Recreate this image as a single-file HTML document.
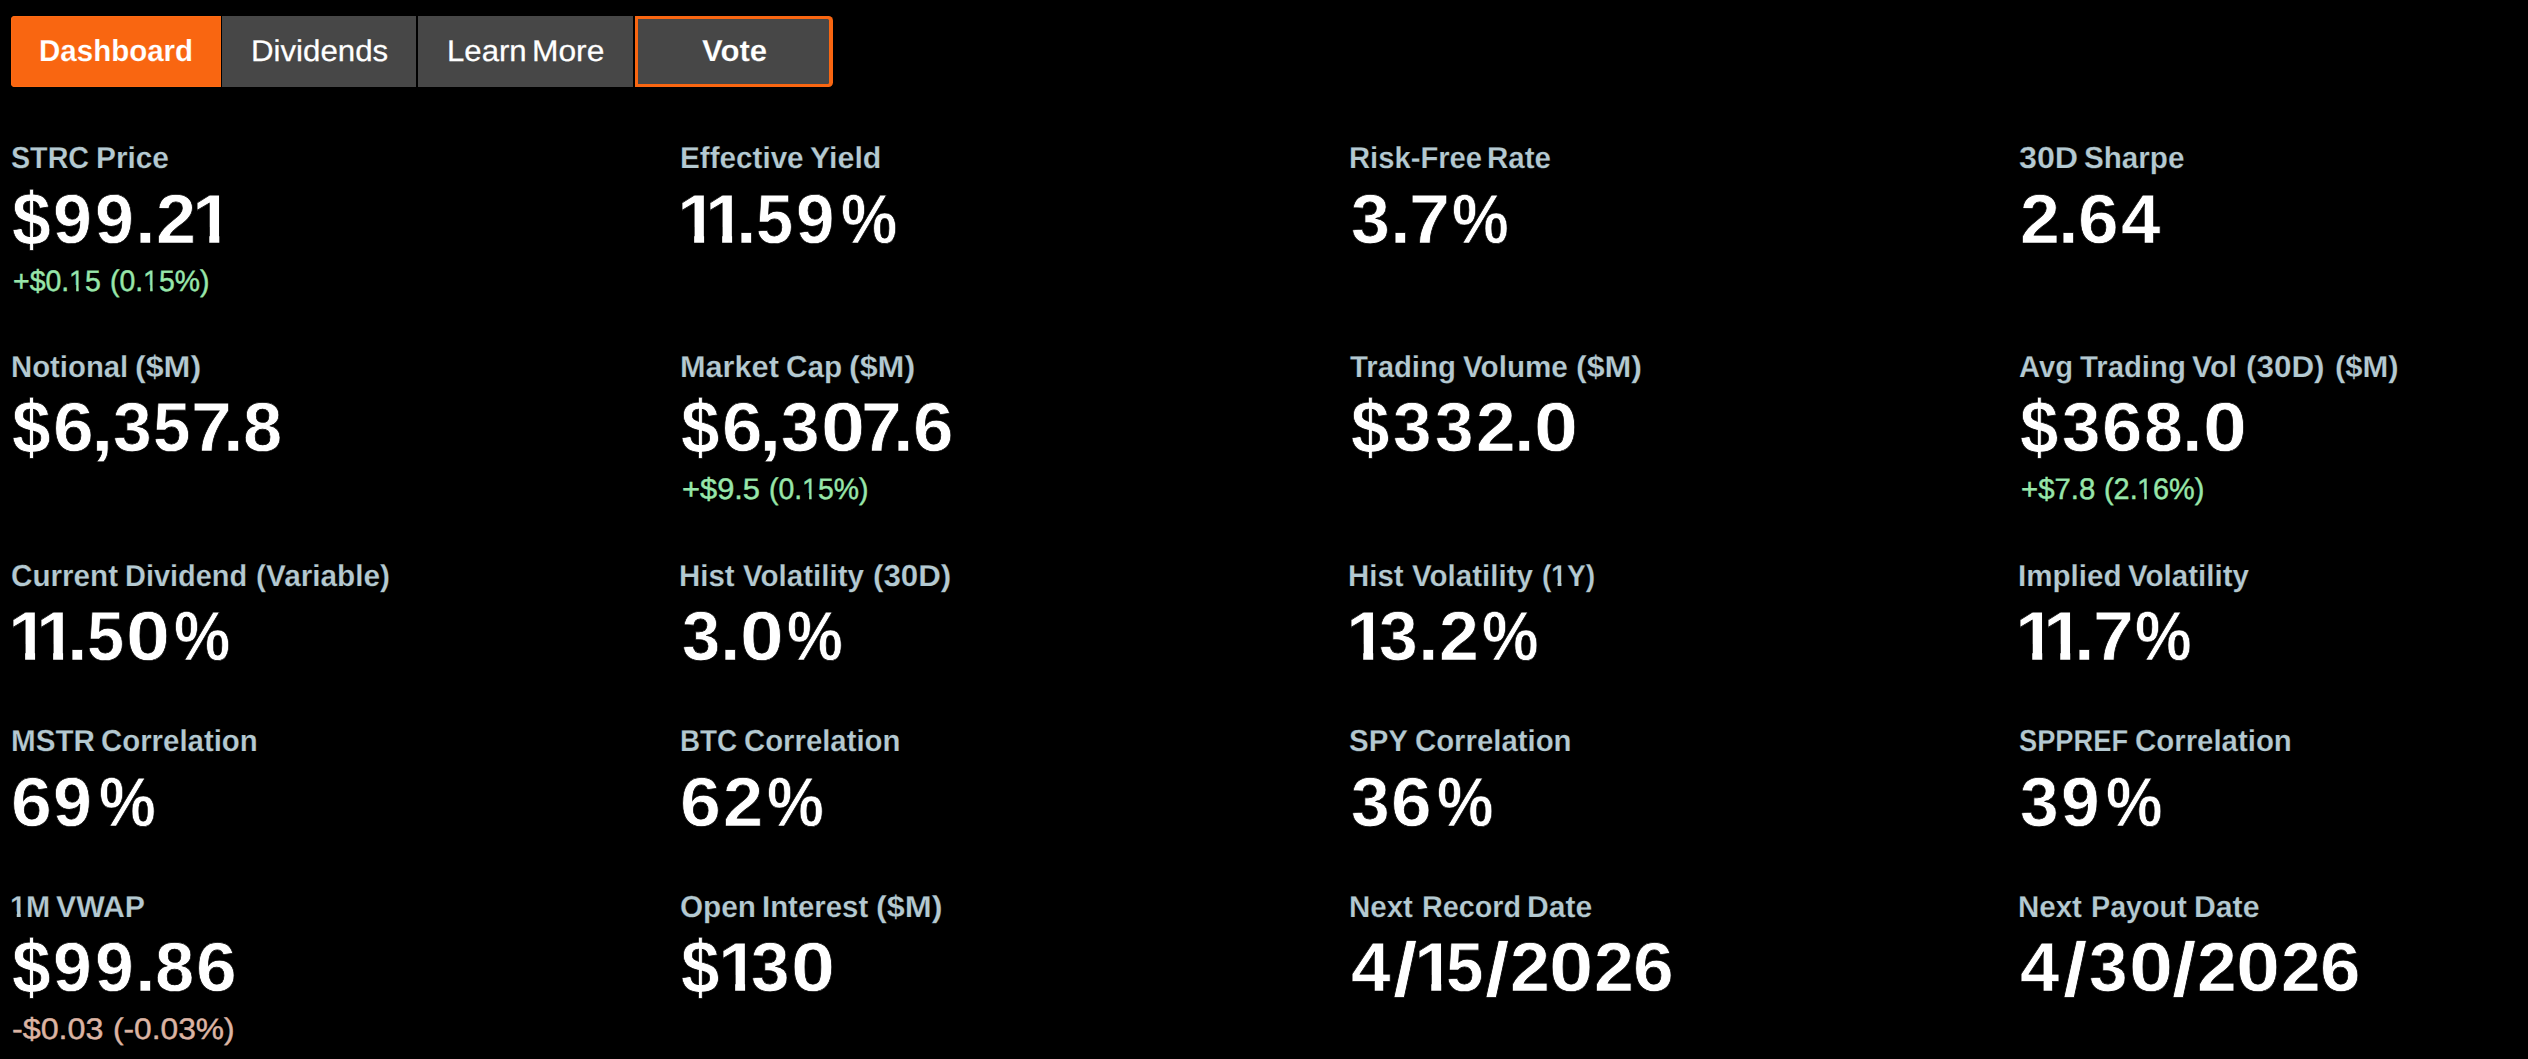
<!DOCTYPE html>
<html lang="en"><head><meta charset="utf-8"><title>STRC Dashboard</title>
<style>
html,body{margin:0;padding:0;background:#000;}
body{width:2528px;height:1059px;position:relative;overflow:hidden;font-family:"Liberation Sans",sans-serif;text-rendering:geometricPrecision;}
.r{position:absolute;left:0;width:2528px;line-height:1;white-space:nowrap;}
.r span{display:inline-block;white-space:nowrap;line-height:1;transform-origin:0 0;vertical-align:baseline;}
.one{clip-path:polygon(0 0,.3707em 0,.3707em 1.2em,.2333em 1.2em,.2333em .6em,0 .6em);}
.oner{clip-path:polygon(0 0,.3399em 0,.3399em 1.2em,.2514em 1.2em,.2514em .6em,0 .6em);}
.label{font-size:30.3px;font-weight:700;color:#b4c9d1;-webkit-text-stroke:0.2px #000;}
.value{font-size:69.7px;font-weight:700;color:#ffffff;-webkit-text-stroke:0.7px #000;}
.dpos{font-size:29.6px;font-weight:400;color:#98e6aa;-webkit-text-stroke:0.45px #98e6aa;}
.dneg{font-size:29.6px;font-weight:400;color:#dcb4a3;-webkit-text-stroke:0.45px #dcb4a3;}
.tabb{font-size:30.4px;font-weight:700;color:#ffffff;-webkit-text-stroke:0.15px #f96611;}
.tabv{font-size:30.4px;font-weight:700;color:#ffffff;-webkit-text-stroke:0.15px #474747;}
.tabr{font-size:29.9px;font-weight:400;color:#ffffff;-webkit-text-stroke:0.25px #ffffff;}

.tab{position:absolute;top:16px;height:71px;background:#474747;}
#t1{left:11px;width:210px;background:#f96611;border-radius:4px 0 0 4px;box-shadow:inset 0 0 0 1px #fd6b13;}
#t2{left:222px;width:194px;}
#t3{left:418px;width:215px;}
#t4{left:635px;width:197.7px;background:#f96611;border-radius:0 4.5px 4.5px 0;}
#t4 i{position:absolute;left:3.25px;top:3.25px;right:3.25px;bottom:3.25px;background:#474747;border-radius:0 1.5px 1.5px 0;display:block;}
</style></head>
<body>
<div class="tab" id="t1"></div><div class="tab" id="t2"></div><div class="tab" id="t3"></div><div class="tab" id="t4"><i></i></div>
<div class="r tabb" style="top:36.30px"><span style="margin-left:38.62px;transform:scaleX(0.9710)">Dashboard</span></div>
<div class="r tabr" style="top:37.30px"><span style="margin-left:251.23px;transform:scaleX(1.0451)">Dividends</span></div>
<div class="r tabr" style="top:37.30px"><span style="margin-left:446.89px;width:77.28px;transform:scaleX(1.0421)">Learn</span> <span style="transform:scaleX(1.0613)">More</span></div>
<div class="r tabv" style="top:36.30px"><span style="margin-left:702.31px;transform:scaleX(1.0247)">Vote</span></div>
<div class="r label" style="top:144.30px"><span style="margin-left:10.83px;width:76.27px;transform:scaleX(0.9464)">STRC</span> <span style="transform:scaleX(0.9840)">Price</span></div>
<div class="r value" style="top:185.30px"><span style="margin-left:12.05px;width:41.02px;transform-origin:0 34.72px;transform:scale(1.0015,1.08)">$</span><span style="width:42.37px;transform:scaleX(1.0035)">9</span><span style="width:39.51px;transform:scaleX(1.0035)">9</span><span style="width:21.16px;transform:scaleX(1.0713)">.</span><span style="width:36.32px;transform:scaleX(1.0336)">2</span><span class="one" style="transform:scaleX(1.0637)">1</span></div>
<div class="r dpos" style="top:267.30px"><span style="margin-left:12.54px;width:56.22px;transform:scaleX(0.9623)">+$0.</span><span class="oner" style="width:15.84px;transform:scaleX(0.9623)">1</span><span style="width:17.32px;transform:scaleX(0.9623)">5</span> <span style="width:33.11px;transform:scaleX(0.9588)">(0.</span><span class="oner" style="width:15.78px;transform:scaleX(0.9588)">1</span><span style="transform:scaleX(0.9588)">5%)</span></div>
<div class="r label" style="top:144.30px"><span style="margin-left:679.85px;width:121.83px;transform:scaleX(0.9788)">Effective</span> <span style="transform:scaleX(1.0008)">Yield</span></div>
<div class="r value" style="top:185.30px"><span class="one" style="margin-left:677.36px;width:27.59px;transform:scaleX(1.0541)">1</span><span class="one" style="width:30.87px;transform:scaleX(1.0541)">1</span><span style="width:20.42px;transform:scaleX(1.0616)">.</span><span style="width:39.44px;transform:scaleX(0.9593)">5</span><span style="width:45.65px;transform:scaleX(0.9944)">9</span><span style="transform:scaleX(0.9085)">%</span></div>
<div class="r label" style="top:144.30px"><span style="margin-left:1348.56px;width:130.22px;transform:scaleX(0.9640)">Risk-Free</span> <span style="transform:scaleX(0.9744)">Rate</span></div>
<div class="r value" style="top:185.30px"><span style="margin-left:1350.75px;width:39.34px;transform:scaleX(1.0031)">3</span><span style="width:19.02px;transform:scaleX(1.0706)">.</span><span style="width:42.42px;transform:scaleX(1.0571)">7</span><span style="transform:scaleX(0.9161)">%</span></div>
<div class="r label" style="top:144.30px"><span style="margin-left:2018.83px;width:56.47px;transform:scaleX(1.0641)">30D</span> <span style="transform:scaleX(0.9779)">Sharpe</span></div>
<div class="r value" style="top:185.30px"><span style="margin-left:2019.63px;width:38.22px;transform:scaleX(1.0285)">2</span><span style="width:20.61px;transform:scaleX(1.0660)">.</span><span style="width:42.94px;transform:scaleX(1.0484)">6</span><span style="transform:scaleX(1.0181)">4</span></div>
<div class="r label" style="top:353.30px"><span style="margin-left:10.68px;width:116.38px;transform:scaleX(0.9677)">Notional</span> <span style="transform:scaleX(1.0624)">($M)</span></div>
<div class="r value" style="top:393.30px"><span style="margin-left:12.30px;width:40.74px;transform-origin:0 34.72px;transform:scale(0.9977,1.08)">$</span><span style="width:37.74px;transform:scaleX(1.0496)">6</span><span style="width:22.02px;transform:scaleX(1.1651)">,</span><span style="width:40.63px;transform:scaleX(0.9999)">3</span><span style="width:37.87px;transform:scaleX(0.9644)">5</span><span style="width:31.66px;transform:scaleX(1.0538)">7</span><span style="width:20.52px;transform:scaleX(1.0672)">.</span><span style="transform:scaleX(1.0114)">8</span></div>
<div class="r label" style="top:353.30px"><span style="margin-left:679.70px;width:97.46px;transform:scaleX(1.0122)">Market</span> <span style="width:55.43px;transform:scaleX(0.9792)">Cap</span> <span style="transform:scaleX(1.0624)">($M)</span></div>
<div class="r value" style="top:393.30px"><span style="margin-left:681.24px;width:40.56px;transform-origin:0 34.72px;transform:scale(0.9932,1.08)">$</span><span style="width:37.57px;transform:scaleX(1.0450)">6</span><span style="width:21.92px;transform:scaleX(1.1599)">,</span><span style="width:40.24px;transform:scaleX(0.9955)">3</span><span style="width:39.82px;transform:scaleX(1.1366)">0</span><span style="width:31.52px;transform:scaleX(1.0491)">7</span><span style="width:20.54px;transform:scaleX(1.0625)">.</span><span style="transform:scaleX(1.0450)">6</span></div>
<div class="r dpos" style="top:475.30px"><span style="margin-left:681.52px;width:79.24px;transform:scaleX(1.0415)">+$9.5</span> <span style="width:33.11px;transform:scaleX(0.9588)">(0.</span><span class="oner" style="width:15.78px;transform:scaleX(0.9588)">1</span><span style="transform:scaleX(0.9588)">5%)</span></div>
<div class="r label" style="top:353.30px"><span style="margin-left:1350.41px;width:104.38px;transform:scaleX(0.9669)">Trading</span> <span style="width:104.07px;transform:scaleX(0.9781)">Volume</span> <span style="transform:scaleX(1.0604)">($M)</span></div>
<div class="r value" style="top:393.30px"><span style="margin-left:1351.13px;width:41.76px;transform-origin:0 34.72px;transform:scale(0.9918,1.08)">$</span><span style="width:41.76px;transform:scaleX(0.9940)">3</span><span style="width:40.94px;transform:scaleX(0.9940)">3</span><span style="width:38.04px;transform:scaleX(1.0236)">2</span><span style="width:20.19px;transform:scaleX(1.0610)">.</span><span style="transform:scaleX(1.1350)">0</span></div>
<div class="r label" style="top:353.30px"><span style="margin-left:2018.65px;width:53.30px;transform:scaleX(0.9621)">Avg</span> <span style="width:103.66px;transform:scaleX(0.9669)">Trading</span> <span style="width:44.91px;transform:scaleX(1.0029)">Vol</span> <span style="width:80.36px;transform:scaleX(1.0370)">(30D)</span> <span style="transform:scaleX(1.0224)">($M)</span></div>
<div class="r value" style="top:393.30px"><span style="margin-left:2020.14px;width:41.64px;transform-origin:0 34.72px;transform:scale(0.9889,1.08)">$</span><span style="width:40.38px;transform:scaleX(0.9911)">3</span><span style="width:41.72px;transform:scaleX(1.0404)">6</span><span style="width:38.59px;transform:scaleX(1.0025)">8</span><span style="width:20.14px;transform:scaleX(1.0579)">.</span><span style="transform:scaleX(1.1317)">0</span></div>
<div class="r dpos" style="top:475.30px"><span style="margin-left:2020.69px;width:74.73px;transform:scaleX(0.9909)">+$7.8</span> <span style="width:33.65px;transform:scaleX(0.9742)">(2.</span><span class="oner" style="width:16.03px;transform:scaleX(0.9742)">1</span><span style="transform:scaleX(0.9742)">6%)</span></div>
<div class="r label" style="top:562.30px"><span style="margin-left:10.73px;width:106.28px;transform:scaleX(0.9779)">Current</span> <span style="width:122.42px;transform:scaleX(0.9554)">Dividend</span> <span style="transform:scaleX(0.9827)">(Variable)</span></div>
<div class="r value" style="top:602.30px"><span class="one" style="margin-left:8.43px;width:27.56px;transform:scaleX(1.0532)">1</span><span class="one" style="width:30.84px;transform:scaleX(1.0532)">1</span><span style="width:20.40px;transform:scaleX(1.0607)">.</span><span style="width:38.98px;transform:scaleX(0.9585)">5</span><span style="width:47.60px;transform:scaleX(1.1348)">0</span><span style="transform:scaleX(0.9077)">%</span></div>
<div class="r label" style="top:562.30px"><span style="margin-left:679.47px;width:55.23px;transform:scaleX(0.9706)">Hist</span> <span style="width:121.13px;transform:scaleX(0.9750)">Volatility</span> <span style="transform:scaleX(1.0334)">(30D)</span></div>
<div class="r value" style="top:602.30px"><span style="margin-left:681.54px;width:38.68px;transform:scaleX(0.9864)">3</span><span style="width:20.04px;transform:scaleX(1.0528)">.</span><span style="width:47.24px;transform:scaleX(1.1263)">0</span><span style="transform:scaleX(0.9009)">%</span></div>
<div class="r label" style="top:562.30px"><span style="margin-left:1348.47px;width:55.23px;transform:scaleX(0.9706)">Hist</span> <span style="width:120.99px;transform:scaleX(0.9750)">Volatility</span> <span style="width:9.39px;transform:scaleX(0.9307)">(</span><span class="one" style="width:15.68px;transform:scaleX(0.9307)">1</span><span style="transform:scaleX(0.9307)">Y)</span></div>
<div class="r value" style="top:602.30px"><span class="one" style="margin-left:1346.03px;width:32.59px;transform:scaleX(1.0590)">1</span><span style="width:39.19px;transform:scaleX(0.9993)">3</span><span style="width:21.07px;transform:scaleX(1.0666)">.</span><span style="width:43.57px;transform:scaleX(1.0291)">2</span><span style="transform:scaleX(0.9127)">%</span></div>
<div class="r label" style="top:562.30px"><span style="margin-left:2018.31px;width:101.68px;transform:scaleX(0.9759)">Implied</span> <span style="transform:scaleX(0.9759)">Volatility</span></div>
<div class="r value" style="top:602.30px"><span class="one" style="margin-left:2015.29px;width:27.75px;transform:scaleX(1.0603)">1</span><span class="one" style="width:31.05px;transform:scaleX(1.0603)">1</span><span style="width:18.97px;transform:scaleX(1.0679)">.</span><span style="width:42.31px;transform:scaleX(1.0544)">7</span><span style="transform:scaleX(0.9138)">%</span></div>
<div class="r label" style="top:727.30px"><span style="margin-left:10.58px;width:81.55px;transform:scaleX(0.9771)">MSTR</span> <span style="transform:scaleX(0.9700)">Correlation</span></div>
<div class="r value" style="top:768.30px"><span style="margin-left:10.60px;width:42.48px;transform:scaleX(1.0537)">6</span><span style="width:46.07px;transform:scaleX(1.0035)">9</span><span style="transform:scaleX(0.9167)">%</span></div>
<div class="r label" style="top:727.30px"><span style="margin-left:680.18px;width:55.13px;transform:scaleX(0.9189)">BTC</span> <span style="transform:scaleX(0.9674)">Correlation</span></div>
<div class="r value" style="top:768.30px"><span style="margin-left:680.35px;width:42.88px;transform:scaleX(1.0552)">6</span><span style="width:43.83px;transform:scaleX(1.0352)">2</span><span style="transform:scaleX(0.9181)">%</span></div>
<div class="r label" style="top:727.30px"><span style="margin-left:1349.27px;width:56.93px;transform:scaleX(0.9712)">SPY</span> <span style="transform:scaleX(0.9685)">Correlation</span></div>
<div class="r value" style="top:768.30px"><span style="margin-left:1350.78px;width:40.68px;transform:scaleX(0.9984)">3</span><span style="width:45.94px;transform:scaleX(1.0481)">6</span><span style="transform:scaleX(0.9119)">%</span></div>
<div class="r label" style="top:727.30px"><span style="margin-left:2018.71px;width:107.56px;transform:scaleX(0.8998)">SPPREF</span> <span style="transform:scaleX(0.9703)">Correlation</span></div>
<div class="r value" style="top:768.30px"><span style="margin-left:2019.78px;width:40.79px;transform:scaleX(0.9984)">3</span><span style="width:45.83px;transform:scaleX(0.9982)">9</span><span style="transform:scaleX(0.9119)">%</span></div>
<div class="r label" style="top:893.30px"><span class="one" style="margin-left:10.29px;width:16.09px;transform:scaleX(0.9552)">1</span><span style="width:21.40px;transform:scaleX(0.9552)">M</span> <span style="transform:scaleX(0.9970)">VWAP</span></div>
<div class="r value" style="top:933.30px"><span style="margin-left:12.07px;width:40.91px;transform-origin:0 34.72px;transform:scale(0.9989,1.08)">$</span><span style="width:42.26px;transform:scaleX(1.0009)">9</span><span style="width:39.41px;transform:scaleX(1.0009)">9</span><span style="width:20.54px;transform:scaleX(1.0686)">.</span><span style="width:40.50px;transform:scaleX(1.0127)">8</span><span style="transform:scaleX(1.0510)">6</span></div>
<div class="r dneg" style="top:1015.30px"><span style="margin-left:11.76px;width:92.87px;transform:scaleX(1.0890)">-$0.03</span> <span style="transform:scaleX(1.0713)">(-0.03%)</span></div>
<div class="r label" style="top:893.30px"><span style="margin-left:679.68px;width:74.29px;transform:scaleX(0.9810)">Open</span> <span style="width:105.44px;transform:scaleX(0.9701)">Interest</span> <span style="transform:scaleX(1.0661)">($M)</span></div>
<div class="r value" style="top:933.30px"><span style="margin-left:681.38px;width:36.94px;transform-origin:0 34.72px;transform:scale(0.9924,1.08)">$</span><span class="one" style="width:32.44px;transform:scaleX(1.0540)">1</span><span style="width:40.20px;transform:scaleX(0.9946)">3</span><span style="transform:scaleX(1.1357)">0</span></div>
<div class="r label" style="top:893.30px"><span style="margin-left:1349.38px;width:64.46px;transform:scaleX(0.9736)">Next</span> <span style="width:96.63px;transform:scaleX(0.9479)">Record</span> <span style="transform:scaleX(0.9920)">Date</span></div>
<div class="r value" style="top:933.30px"><span style="margin-left:1350.52px;width:42.83px;transform:scaleX(1.0202)">4</span><span style="width:20.91px;transform-origin:0 7.49px;transform:scale(1.2631,1.1)">/</span><span class="one" style="width:31.27px;transform:scaleX(1.0606)">1</span><span style="width:39.07px;transform:scaleX(0.9653)">5</span><span style="width:24.97px;transform-origin:0 7.49px;transform:scale(1.2631,1.1)">/</span><span style="width:39.51px;transform:scaleX(1.0306)">2</span><span style="width:44.58px;transform:scaleX(1.1428)">0</span><span style="width:39.82px;transform:scaleX(1.0306)">2</span><span style="transform:scaleX(1.0506)">6</span></div>
<div class="r label" style="top:893.30px"><span style="margin-left:2018.38px;width:64.56px;transform:scaleX(0.9736)">Next</span> <span style="width:94.30px;transform:scaleX(0.9474)">Payout</span> <span style="transform:scaleX(0.9969)">Date</span></div>
<div class="r value" style="top:933.30px"><span style="margin-left:2020.36px;width:42.60px;transform:scaleX(1.0149)">4</span><span style="width:25.66px;transform-origin:0 7.49px;transform:scale(1.2566,1.1)">/</span><span style="width:40.25px;transform:scaleX(0.9956)">3</span><span style="width:43.40px;transform:scaleX(1.1369)">0</span><span style="width:24.84px;transform-origin:0 7.49px;transform:scale(1.2566,1.1)">/</span><span style="width:39.30px;transform:scaleX(1.0253)">2</span><span style="width:44.35px;transform:scaleX(1.1369)">0</span><span style="width:39.62px;transform:scaleX(1.0253)">2</span><span style="transform:scaleX(1.0452)">6</span></div>
</body></html>
